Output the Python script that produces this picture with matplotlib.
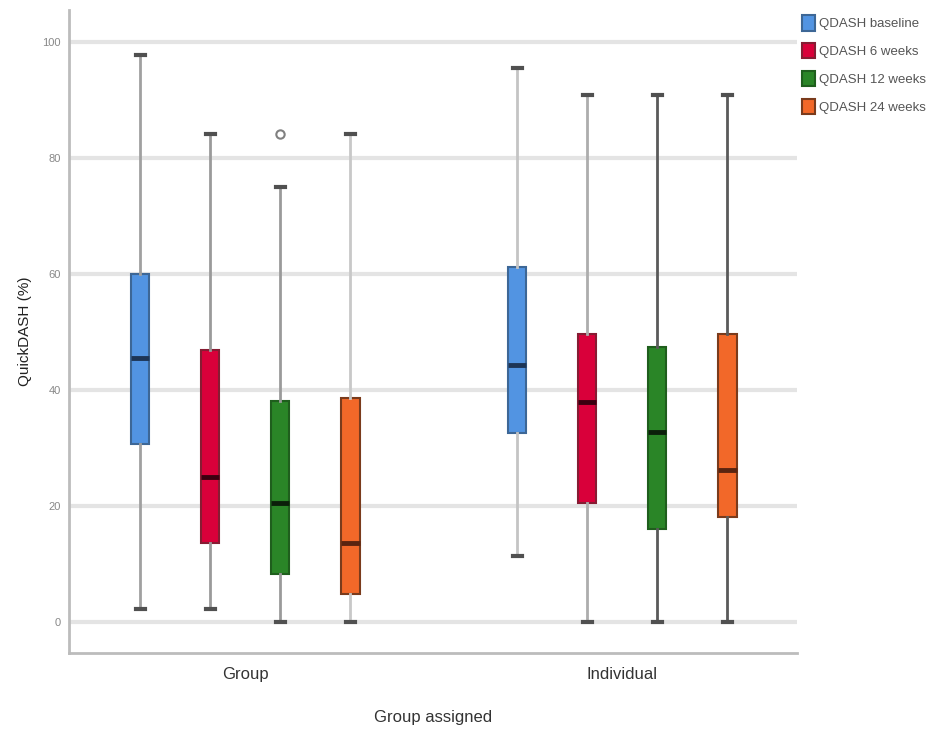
import matplotlib
matplotlib.use("Agg")
import matplotlib.pyplot as plt
from matplotlib.patches import Patch

plt.rcParams['font.family'] = ['Liberation Sans', 'DejaVu Sans']

groups = ["Group", "Individual"]
series = ["QDASH baseline", "QDASH 6 weeks", "QDASH 12 weeks", "QDASH 24 weeks"]

# per series: [Group, Individual]
whislo = [[2.27, 11.36], [2.27, 0.0], [0.0, 0.0], [0.0, 0.0]]
q1 = [[30.7, 32.5], [13.64, 20.45], [8.3, 15.91], [4.8, 18.1]]
med = [[45.45, 44.3], [25.0, 37.9], [20.45, 32.7], [13.64, 26.2]]
q3 = [[60.0, 61.1], [46.8, 49.6], [38.0, 47.3], [38.6, 49.6]]
whishi = [[97.73, 95.45], [84.09, 90.91], [75.0, 90.91], [84.09, 90.91]]
fliers = [[[], []], [[], []], [[84.09], []], [[], []]]

fills = ["#5294e2", "#d9003a", "#2a8527", "#f26829"]
edges = ["#3d6796", "#861c33", "#1f5e1d", "#7a3b1c"]
meds = ["#1d3556", "#3a0010", "#0b1f0a", "#5a2410"]
whisk = [["#a0a0a0", "#c4c4c4"], ["#9a9a9a", "#adadad"],
         ["#9a9a9a", "#5a5a5a"], ["#c8c8c8", "#5a5a5a"]]

fig = plt.figure(figsize=(9.52, 7.45), dpi=100)
ax = fig.add_axes([69 / 952, 1 - 653 / 745, (797 - 69) / 952, (653 - 10) / 745])

step = 0.1857
for i, name in enumerate(series):
    off = (i - 1.5) * step
    for g in range(len(groups)):
        st = [dict(whislo=whislo[i][g], q1=q1[i][g], med=med[i][g], q3=q3[i][g],
                   whishi=whishi[i][g], fliers=fliers[i][g])]
        ax.bxp(st, positions=[g + off], widths=0.048, capwidths=0.022,
               patch_artist=True, showfliers=True,
               boxprops=dict(facecolor=fills[i], edgecolor=edges[i], linewidth=1.5),
               medianprops=dict(color=meds[i], linewidth=3.5, solid_capstyle='butt'),
               whiskerprops=dict(color=whisk[i][g], linewidth=2),
               capprops=dict(color="#505050", linewidth=3),
               flierprops=dict(marker='o', markersize=6, markerfacecolor='white',
                               markeredgecolor='#808080', markeredgewidth=1.5),
               zorder=3)

ax.set_xlim(-0.468, 1.463)
ax.set_ylim(-5.4, 105.5)
ax.set_yticks([0, 20, 40, 60, 80, 100])
ax.yaxis.grid(True, color="#e4e4e4", linewidth=3)
ax.set_axisbelow(True)
ax.set_xticks([0, 1])
ax.set_xticklabels(groups, fontsize=12, color="#333333")
ax.tick_params(axis='y', length=0, labelsize=8, labelcolor="#888888", pad=6)
ax.tick_params(axis='x', length=0, pad=10)
for s in ["top", "right"]:
    ax.spines[s].set_visible(False)
for s in ["left", "bottom"]:
    ax.spines[s].set_color("#bcbcbc")
    ax.spines[s].set_linewidth(2)

ax.set_ylabel("QuickDASH (%)", fontsize=11, color="#222222", labelpad=7)
ax.set_xlabel("Group assigned", fontsize=12, color="#333333", labelpad=20)

handles = [Patch(facecolor=fills[i], edgecolor=edges[i], linewidth=1.5, label=series[i])
           for i in range(len(series))]
fig.legend(handles=handles, loc='upper left', bbox_to_anchor=(797 / 952, 1 - 10 / 745),
           frameon=False, fontsize=9.5, labelcolor="#555555", handlelength=1.0,
           handleheight=1.4, handletextpad=0.3, labelspacing=0.95, borderaxespad=0)

fig.savefig("out.png", dpi=100)
